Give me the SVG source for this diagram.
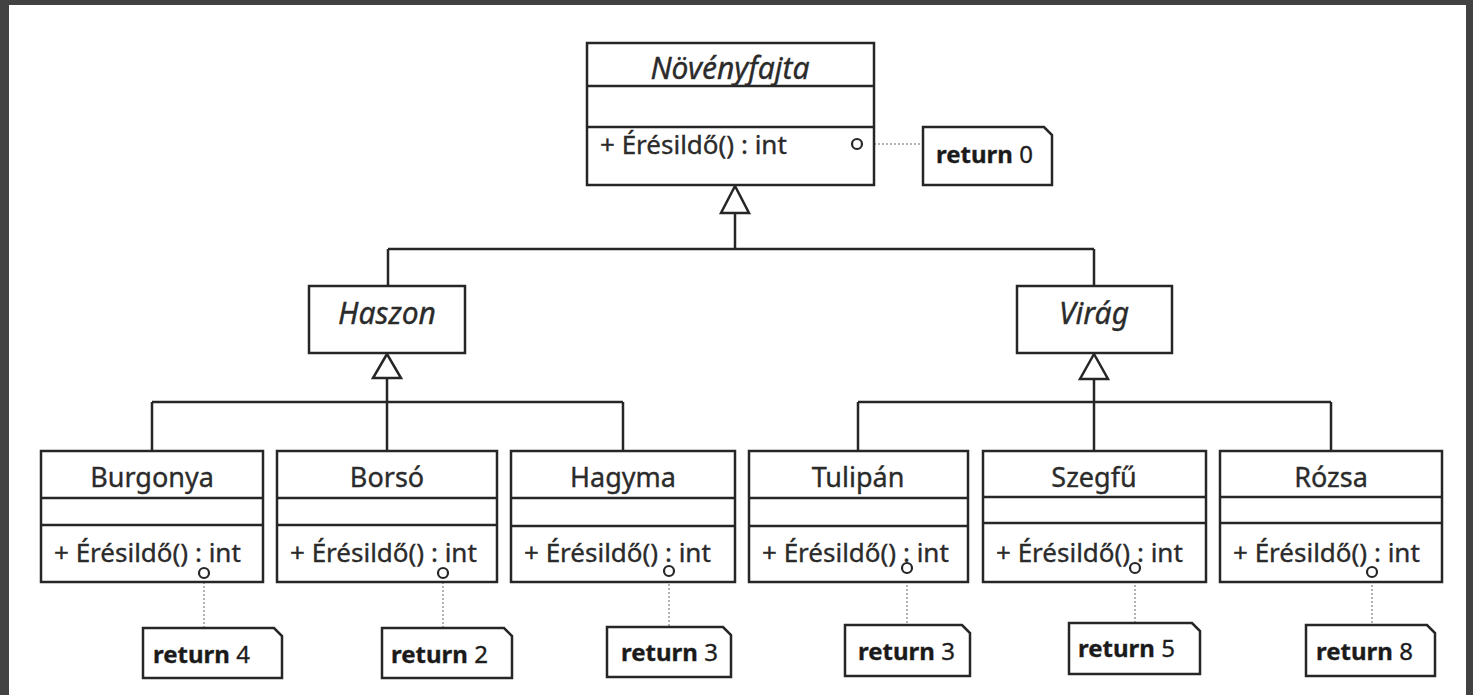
<svg xmlns="http://www.w3.org/2000/svg" width="1473" height="695" viewBox="0 0 1473 695">
  <style>
    .box { fill: #fff; stroke: #262626; stroke-width: 2.5; }
    .sep { stroke: #262626; stroke-width: 2.5; fill: none; }
    .gen { stroke: #262626; stroke-width: 2.5; fill: none; }
    .tri { fill: #fff; stroke: #262626; stroke-width: 2.5; stroke-linejoin: miter; }
    .anchor { stroke: #999; stroke-width: 1.5; stroke-dasharray: 2 2; fill: none; }
    .port { fill: #fff; stroke: #262626; stroke-width: 2.2; }
    .note { fill: #fff; stroke: #262626; stroke-width: 2.5; stroke-linejoin: miter; }
    text { stroke: #2b2b2b; stroke-width: 0.35; }
    .name { font-family: "Noto Sans", "Open Sans", sans-serif; font-size: 27px; fill: #2b2b2b; text-anchor: middle; }
    .abstract { font-style: italic; font-size: 30px; }
    .op { font-family: "Noto Sans", "Open Sans", sans-serif; font-size: 26px; fill: #2b2b2b; }
    .ret { font-family: "Noto Sans", "Open Sans", sans-serif; font-size: 24px; fill: #1a1a1a; }
    .kw { font-weight: bold; }
  </style>

  <!-- frame -->
  <rect x="0" y="0" width="1473" height="695" fill="#424242"/>
  <rect x="9" y="5" width="1457" height="690" fill="#ffffff"/>

  <!-- generalization connectors -->
  <g id="connectors">
    <!-- Növényfajta hierarchy -->
    <path class="gen" d="M735 213 V249 M388 249 H1094 M388 249 V286 M1094 249 V286"/>
    <polygon class="tri" points="735,186 721,213 749,213"/>
    <!-- Haszon hierarchy -->
    <path class="gen" d="M387 378 V402 M152 402 H623 M152 402 V451 M387 402 V451 M623 402 V451"/>
    <polygon class="tri" points="387,354 373,378 401,378"/>
    <!-- Virág hierarchy -->
    <path class="gen" d="M1094 379 V402 M858 402 H1331 M858 402 V451 M1094 402 V451 M1331 402 V451"/>
    <polygon class="tri" points="1094,354 1080,379 1108,379"/>
    <!-- note anchors -->
    <path class="anchor" d="M862 144 H923"/>
    <path class="anchor" d="M204 578 V628"/>
    <path class="anchor" d="M443 578 V628"/>
    <path class="anchor" d="M669 576 V627"/>
    <path class="anchor" d="M907 573 V625"/>
    <path class="anchor" d="M1135 573 V623"/>
    <path class="anchor" d="M1372 577 V625"/>
  </g>

  <!-- abstract root -->
  <g id="novenyfajta">
    <rect class="box" x="587" y="43" width="287" height="142"/>
    <path class="sep" d="M587 86 H874 M587 127 H874"/>
    <text class="name abstract" x="730" y="79">Növényfajta</text>
    <text class="op" x="600" y="154">+ Érésildő() : int</text>
    <circle class="port" cx="857" cy="144" r="5"/>
  </g>
  <g id="note-0">
    <path class="note" d="M923 127 H1044 L1052 135 V185 H923 Z"/>
    <text class="ret" x="936" y="163"><tspan class="kw">return</tspan> 0</text>
  </g>

  <!-- abstract subclasses -->
  <g id="haszon">
    <rect class="box" x="309" y="286" width="156" height="67"/>
    <text class="name abstract" x="387" y="324">Haszon</text>
  </g>
  <g id="virag">
    <rect class="box" x="1017" y="286" width="155" height="67"/>
    <text class="name abstract" x="1094" y="324">Virág</text>
  </g>

  <!-- concrete classes -->
  <g id="burgonya">
    <rect class="box" x="41" y="451" width="222" height="131"/>
    <path class="sep" d="M41 498 H263 M41 525 H263"/>
    <text class="name" x="152" y="487">Burgonya</text>
    <text class="op" x="54" y="562">+ Érésildő() : int</text>
    <circle class="port" cx="204" cy="573" r="5"/>
  </g>
  <g id="borso">
    <rect class="box" x="277" y="451" width="220" height="131"/>
    <path class="sep" d="M277 498 H497 M277 525 H497"/>
    <text class="name" x="387" y="487">Borsó</text>
    <text class="op" x="290" y="562">+ Érésildő() : int</text>
    <circle class="port" cx="443" cy="573" r="5"/>
  </g>
  <g id="hagyma">
    <rect class="box" x="511" y="451" width="224" height="131"/>
    <path class="sep" d="M511 498 H735 M511 526 H735"/>
    <text class="name" x="623" y="487">Hagyma</text>
    <text class="op" x="524" y="562">+ Érésildő() : int</text>
    <circle class="port" cx="669" cy="571" r="5"/>
  </g>
  <g id="tulipan">
    <rect class="box" x="749" y="451" width="219" height="131"/>
    <path class="sep" d="M749 498 H968 M749 526 H968"/>
    <text class="name" x="858" y="487">Tulipán</text>
    <text class="op" x="762" y="562">+ Érésildő() : int</text>
    <circle class="port" cx="907" cy="568" r="5"/>
  </g>
  <g id="szegfu">
    <rect class="box" x="983" y="451" width="223" height="131"/>
    <path class="sep" d="M983 497 H1206 M983 523 H1206"/>
    <text class="name" x="1094" y="487">Szegfű</text>
    <text class="op" x="996" y="562">+ Érésildő() : int</text>
    <circle class="port" cx="1135" cy="568" r="5"/>
  </g>
  <g id="rozsa">
    <rect class="box" x="1220" y="451" width="222" height="131"/>
    <path class="sep" d="M1220 497 H1442 M1220 523 H1442"/>
    <text class="name" x="1331" y="487">Rózsa</text>
    <text class="op" x="1233" y="562">+ Érésildő() : int</text>
    <circle class="port" cx="1372" cy="572" r="5"/>
  </g>

  <!-- return-value notes -->
  <g id="note-4">
    <path class="note" d="M143 628 H274 L282 636 V678 H143 Z"/>
    <text class="ret" x="153" y="663"><tspan class="kw">return</tspan> 4</text>
  </g>
  <g id="note-2">
    <path class="note" d="M382 628 H504 L512 636 V678 H382 Z"/>
    <text class="ret" x="391" y="663"><tspan class="kw">return</tspan> 2</text>
  </g>
  <g id="note-3a">
    <path class="note" d="M607 627 H723 L731 635 V677 H607 Z"/>
    <text class="ret" x="621" y="661"><tspan class="kw">return</tspan> 3</text>
  </g>
  <g id="note-3b">
    <path class="note" d="M845 625 H962 L970 633 V676 H845 Z"/>
    <text class="ret" x="858" y="660"><tspan class="kw">return</tspan> 3</text>
  </g>
  <g id="note-5">
    <path class="note" d="M1069 623 H1192 L1200 631 V674 H1069 Z"/>
    <text class="ret" x="1078" y="657"><tspan class="kw">return</tspan> 5</text>
  </g>
  <g id="note-8">
    <path class="note" d="M1306 625 H1427 L1435 633 V676 H1306 Z"/>
    <text class="ret" x="1316" y="660"><tspan class="kw">return</tspan> 8</text>
  </g>
</svg>
